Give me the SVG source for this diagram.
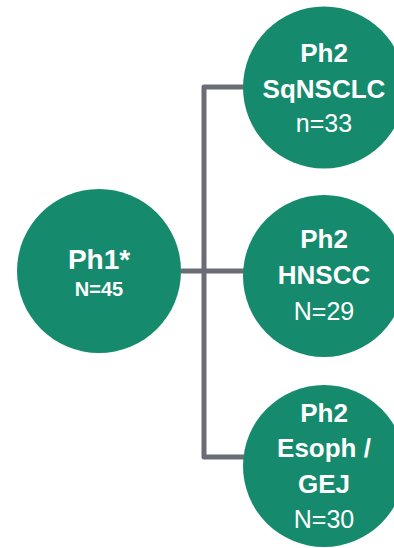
<svg xmlns="http://www.w3.org/2000/svg" width="394" height="548" viewBox="0 0 394 548">
<style>
.node{fill:#158A6D}
.t{fill:#ffffff;font-family:"Liberation Sans",Arial,sans-serif;text-anchor:middle}
.b{font-weight:bold}
.conn{fill:none;stroke:#6A6D75;stroke-width:5;stroke-linejoin:round}
</style>
<rect width="394" height="548" fill="#ffffff"/>
<g id="connectors">
<path class="conn" d="M181 271 H246"/>
<path class="conn" d="M246 87 H204 V457 H246"/>
</g>
<g id="ph1">
<circle class="node" cx="99" cy="271" r="82"/>
<text class="t b" x="99" y="269" font-size="28">Ph1*</text>
<text class="t b" x="99" y="296" font-size="20">N=45</text>
</g>
<g id="sqnsclc">
<circle class="node" cx="324" cy="87.5" r="81"/>
<text class="t b" x="324" y="62" font-size="26">Ph2</text>
<text class="t b" x="324" y="98" font-size="26">SqNSCLC</text>
<text class="t" x="324" y="132" font-size="25">n=33</text>
</g>
<g id="hnscc">
<circle class="node" cx="324" cy="276" r="81"/>
<text class="t b" x="324" y="248" font-size="26">Ph2</text>
<text class="t b" x="324" y="284" font-size="26">HNSCC</text>
<text class="t" x="324" y="320" font-size="25">N=29</text>
</g>
<g id="esoph">
<circle class="node" cx="324" cy="466" r="81"/>
<text class="t b" x="324" y="422" font-size="26">Ph2</text>
<text class="t b" x="324" y="457" font-size="26">Esoph /</text>
<text class="t b" x="324" y="493" font-size="26">GEJ</text>
<text class="t" x="324" y="528" font-size="25">N=30</text>
</g>
</svg>
